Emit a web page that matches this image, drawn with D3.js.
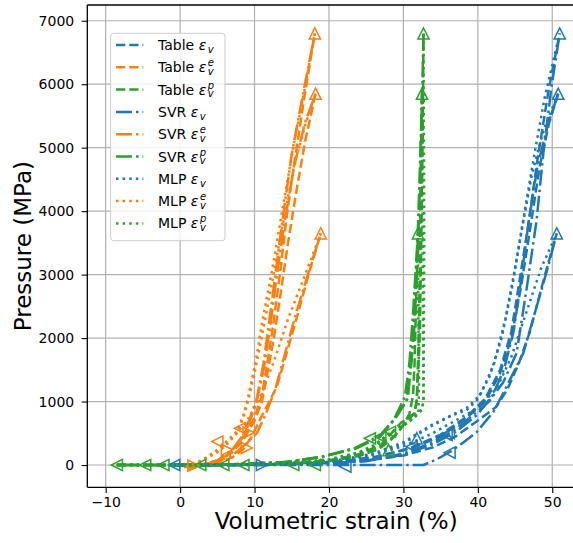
<!DOCTYPE html>
<html><head><meta charset="utf-8">
<script src="https://cdn.jsdelivr.net/npm/d3@7"></script>
<style>body{margin:0;background:#fff} text{font-family:"DejaVu Sans",sans-serif}</style>
</head><body><svg id="c" width="573" height="543"></svg>
<script>
// ---------------- DATA (strain %, pressure MPa) ----------------
const xTicks = [-10, 0, 10, 20, 30, 40, 50];
const yTicks = [0, 1000, 2000, 3000, 4000, 5000, 6000, 7000];
const legendLabels = ["Table", "Table", "Table", "SVR", "SVR", "SVR", "MLP", "MLP", "MLP"];
const legendSup = ["", "e", "p", "", "e", "p", "", "e", "p"];

// Table εv (three load paths)
const tableEv = [
  [[-0.8,0],[5,0],[10,5],[15,15],[20,30],[25,70],[30,150],[34,280],[37,450],[40,700],[42.5,920],[44,1200],[45.5,1600],[47,2100],[48.8,2900],[50.6,3650]],
  [[-0.8,0],[5,0],[11,5],[16,20],[21,50],[26,120],[31,260],[35,450],[38,700],[41,1000],[43,1450],[44.5,2000],[45.8,2800],[47,3700],[48.3,4700],[49.6,5400],[50.8,5850]],
  [[-0.8,0],[5,0],[11,5],[16,20],[21,50],[26,120],[31,270],[35,480],[38.5,760],[41,1050],[43,1500],[44.5,2100],[45.6,2900],[46.8,3800],[48,4800],[49.5,5900],[51.0,6800]]
];
const tableEe = [
  [[1.0,-80],[2.5,-20],[5,40],[7,120],[8.5,250],[9.6,446],[10.7,709],[13.0,1234],[14.3,1760],[15.6,2290],[17.2,2980],[18.9,3650]],
  [[1.0,-60],[3,0],[5,60],[7,200],[8.5,400],[10,700],[11,1000],[11.8,1500],[12.6,2000],[13.5,2700],[14.5,3500],[15.6,4300],[16.8,5100],[18.2,5850]],
  [[1.0,-60],[3,0],[5,60],[7,210],[8.5,420],[10,750],[11,1100],[11.7,1600],[12.5,2200],[13.4,3000],[14.3,3900],[15.4,4800],[16.7,5800],[18.1,6800]]
];
const tableEp = [
  [[-8.5,0],[0,0],[10,5],[15,20],[20,60],[24,140],[26.5,240],[28.2,380],[29.6,560],[30.8,800],[31.3,1100],[31.5,1600],[31.7,2500],[31.95,3650]],
  [[-8.5,0],[0,0],[10,5],[15,25],[20,70],[24,160],[27,300],[29,480],[30.5,700],[31.5,814],[31.8,1024],[32.0,1800],[32.2,3000],[32.3,4500],[32.5,5850]],
  [[-8.5,0],[0,0],[10,5],[15,25],[20,70],[24,170],[27,320],[29.6,657],[31.5,814],[31.8,1024],[32.2,2000],[32.4,3500],[32.6,5200],[32.7,6800]]
];
const svrEv = [
  [[-0.8,0],[10,0],[20,0],[27,0],[32.7,0],[34.5,90],[36.3,210],[38,350],[39.9,525],[42.1,840],[43.4,1130],[46.1,1760],[47.9,2494],[49.5,3150],[50.6,3650]],
  [[-0.8,0],[10,0],[20,20],[25,60],[30,160],[34,330],[37,520],[40,800],[42,1100],[43.5,1500],[44.8,2100],[45.8,2900],[46.8,3800],[48,4700],[49.5,5400],[50.8,5850]],
  [[-0.8,0],[10,0],[20,25],[25,70],[30,180],[34,360],[37,560],[40,850],[41.5,1000],[43.4,1300],[45.2,1760],[46.6,2810],[47.9,3860],[48.8,4911],[49.9,5960],[51.0,6800]]
];
const svrEe = [
  [[0.5,-30],[3,10],[5,50],[7,150],[9,350],[10.3,500],[11.5,800],[12.8,1200],[14.2,1800],[15.6,2400],[17.3,3050],[18.9,3650]],
  [[0.5,-30],[3,10],[5,70],[7,230],[8.5,450],[9.4,700],[10.3,1000],[11.2,1500],[12.0,2100],[12.9,2900],[14,3800],[15.3,4700],[16.8,5400],[18.2,5850]],
  [[0.5,-30],[3,10],[5,70],[7,240],[8.5,480],[9.4,750],[10.3,1050],[11.2,1600],[11.9,2200],[12.8,3000],[13.8,3900],[15,4900],[16.6,5900],[18.1,6800]]
];
const svrEp = [
  [[-8.5,0],[5,0],[14.8,52],[19.2,131],[23.7,263],[26.9,446],[28.7,709],[30.2,1076],[30.8,1600],[31.3,2400],[31.95,3650]],
  [[-8.5,0],[5,0],[14,45],[19,125],[23.5,260],[26.7,440],[28.8,720],[30.4,1000],[31.2,1800],[31.8,3200],[32.2,4600],[32.5,5850]],
  [[-8.5,0],[5,0],[14,45],[19,130],[23.5,270],[26.8,460],[29,750],[30.6,1050],[31.4,2000],[32,3500],[32.4,5200],[32.7,6800]]
];
const mlpEv = [
  [[-0.8,0],[10,5],[20,40],[26,158],[30,300],[33.6,480],[37,700],[40,900],[42.5,1200],[44.5,1700],[46.5,2400],[48.5,3100],[50.6,3650]],
  [[-0.8,0],[10,5],[20,45],[26,170],[30,340],[33.6,603],[36.5,780],[38.5,866],[39.9,1024],[41.6,1400],[43.2,2000],[44.6,2800],[45.9,3700],[47.3,4600],[48.9,5300],[50.8,5850]],
  [[-0.8,0],[10,5],[20,50],[26,180],[30,360],[33.6,620],[38.5,900],[40.3,1100],[42.2,1600],[43.7,2300],[45.0,3100],[46.3,4000],[47.6,4900],[49.0,5800],[51.0,6800]]
];
const mlpEe = [
  [[1.7,0],[3.5,100],[5,200],[6.5,350],[7.6,500],[9,700],[10.5,1000],[12.5,1600],[14.5,2300],[16.8,3000],[18.9,3650]],
  [[1.7,0],[3.5,110],[5,220],[6.5,380],[7.6,500],[8.5,750],[9.1,1000],[10.1,1500],[11.1,2100],[12.4,2900],[13.8,3800],[15.3,4700],[16.9,5400],[18.2,5850]],
  [[1.7,0],[3.5,120],[5,240],[6.5,400],[7.6,530],[8.5,780],[9.1,1050],[10.1,1600],[11.1,2300],[12.4,3100],[13.7,4000],[15.2,5000],[16.7,5900],[18.1,6800]]
];
const mlpEp = [
  [[-8.5,0],[5,0],[15,30],[20,80],[24,180],[26,280],[28.2,500],[30.5,657],[32.0,800],[32.1,1200],[32.0,2500],[31.95,3650]],
  [[-8.5,0],[5,0],[15,30],[20,85],[24,190],[26,300],[28.2,500],[30.5,657],[32.5,866],[32.7,1024],[32.6,3000],[32.5,5850]],
  [[-8.5,0],[5,0],[15,30],[20,90],[24,200],[26,310],[28.4,520],[30.7,680],[32.5,880],[32.7,1024],[32.8,3500],[32.7,6800]]
];

// triangle markers: [strain, pressure, direction]
const markersEv = [[51.0,6800,"up"],[50.8,5850,"up"],[50.6,3650,"up"],[-0.8,0,"left"],[11.0,0,"right"],[22.2,-25,"left"],
  [31.8,420,"up"],[31.1,288,"left"],[35.8,473,"left"],[36.2,195,"left"],[36.1,500,"left"]];
const markersEe = [[18.1,6800,"up"],[18.2,5850,"up"],[18.9,3650,"up"],[5.0,370,"left"],[6.3,240,"right"],[8.05,580,"left"],
  [8.95,270,"right"],[9.2,510,"right"],[1.8,-10,"right"]];
const markersEp = [[32.7,6800,"up"],[32.5,5850,"up"],[31.95,3650,"up"],[-8.5,0,"left"],[-4.7,0,"left"],[-2.25,0,"left"],
  [2.7,0,"left"],[5.8,0,"left"],[8.5,0,"left"],[15.2,0,"left"],[18.1,0,"left"],[25.5,420,"left"],[26.9,446,"left"],
  [28.2,525,"left"],[28.0,236,"up"]];

// ---------------- STYLE / BUILD ----------------
const blue = "#1f77b4", orange = "#ff7f0e", green = "#2ca02c";
const dashes = {dashed: "9.25,4", dashdot: "16,4,2.5,4", dotted: "2.5,4.1"};
const series = [
  {data: tableEv, color: blue, dash: dashes.dashed},
  {data: tableEe, color: orange, dash: dashes.dashed},
  {data: tableEp, color: green, dash: dashes.dashed},
  {data: svrEv, color: blue, dash: dashes.dashdot},
  {data: svrEe, color: orange, dash: dashes.dashdot},
  {data: svrEp, color: green, dash: dashes.dashdot},
  {data: mlpEv, color: blue, dash: dashes.dotted},
  {data: mlpEe, color: orange, dash: dashes.dotted},
  {data: mlpEp, color: green, dash: dashes.dotted}
];
const markerSets = [{data: markersEv, color: blue}, {data: markersEe, color: orange}, {data: markersEp, color: green}];

const svg = d3.select("#c");
const L = 87.3, R = 585, T = 5, B = 487.3;
const x = d3.scaleLinear().domain([-12.47, 54.4]).range([L, R]);
const y = d3.scaleLinear().domain([-351, 7248]).range([B, T]);

svg.append("defs").append("clipPath").attr("id", "clip")
  .append("rect").attr("x", L).attr("y", T).attr("width", R - L).attr("height", B - T);

// grid
const grid = svg.append("g");
grid.selectAll(".gx").data(xTicks).enter().append("line")
  .attr("x1", d => x(d)).attr("x2", d => x(d)).attr("y1", T).attr("y2", B)
  .attr("stroke", "#b0b0b0").attr("stroke-width", 1.2);
grid.selectAll(".gy").data(yTicks).enter().append("line")
  .attr("y1", d => y(d)).attr("y2", d => y(d)).attr("x1", L).attr("x2", R)
  .attr("stroke", "#b0b0b0").attr("stroke-width", 1.2);

// lines
const line = d3.line().x(d => x(d[0])).y(d => y(d[1]));
const plot = svg.append("g").attr("clip-path", "url(#clip)");
series.forEach(s => {
  s.data.forEach(br => {
    plot.append("path").attr("d", line(br)).attr("fill", "none")
      .attr("stroke", s.color).attr("stroke-width", 2.5)
      .attr("stroke-dasharray", s.dash).attr("stroke-linejoin", "round");
  });
});
const rot = {up: 0, left: -90, right: 90, down: 180};
const ms = 5.6;
markerSets.forEach(m => {
  plot.selectAll(null).data(m.data).enter().append("path")
    .attr("d", `M0,${-ms}L${-ms},${ms}L${ms},${ms}Z`)
    .attr("transform", d => `translate(${x(d[0])},${y(d[1])}) rotate(${rot[d[2]]})`)
    .attr("fill", "none").attr("stroke", m.color).attr("stroke-width", 1.5).attr("stroke-linejoin", "miter");
});

// axes
const xAxis = d3.axisBottom(x).tickValues(xTicks).tickSize(5.6).tickPadding(4.5)
  .tickFormat(d => d < 0 ? "\u2212" + Math.abs(d) : String(d));
const gx = svg.append("g").attr("transform", `translate(0,${B})`).call(xAxis);
const yAxis = d3.axisLeft(y).tickValues(yTicks).tickSize(5.6).tickPadding(7.5).tickFormat(d => String(d));
const gy = svg.append("g").attr("transform", `translate(${L},0)`).call(yAxis);
[gx, gy].forEach(g => {
  g.select(".domain").remove();
  g.selectAll("line").attr("stroke", "#000").attr("stroke-width", 1.1);
  g.selectAll("text").attr("font-family", "DejaVu Sans").attr("font-size", 14).attr("fill", "#000");
});
// spines
[[L, B, R, B], [L, T, R, T], [L, T, L, B], [R, T, R, B]].forEach(c => {
  svg.append("line").attr("x1", c[0]).attr("y1", c[1]).attr("x2", c[2]).attr("y2", c[3])
    .attr("stroke", "#000").attr("stroke-width", 1.3);
});

// axis labels
svg.append("text").attr("x", (L + R) / 2).attr("y", 529).attr("text-anchor", "middle")
  .attr("font-size", 23).text("Volumetric strain (%)");
svg.append("text").attr("transform", `translate(31,${(T + B) / 2}) rotate(-90)`).attr("text-anchor", "middle")
  .attr("font-size", 23).text("Pressure (MPa)");

// legend
const lg = svg.append("g");
lg.append("rect").attr("x", 110.7).attr("y", 33.3).attr("width", 114.3).attr("height", 207.4)
  .attr("rx", 3).attr("fill", "#fff").attr("fill-opacity", 0.8).attr("stroke", "#cccccc").attr("stroke-width", 1);
series.forEach((s, i) => {
  const cy = 45 + i * 22.3;
  lg.append("line").attr("x1", 116).attr("x2", 143.3).attr("y1", cy).attr("y2", cy)
    .attr("stroke", s.color).attr("stroke-width", 2.5).attr("stroke-dasharray", s.dash);
  const t = lg.append("text").attr("x", 158).attr("y", cy + 5).attr("font-size", 14);
  t.append("tspan").text(legendLabels[i]);
  t.append("tspan").attr("dx", 4.5).attr("font-style", "italic").text("\u03b5");
  t.append("tspan").attr("dx", 1.5).attr("dy", 2.8).attr("font-size", 10).attr("font-style", "italic").text("v");
  if (legendSup[i]) {
    t.append("tspan").attr("dx", -5.9).attr("dy", -8.8).attr("font-size", 10)
      .attr("font-style", "italic").text(legendSup[i]);
  }
});
</script></body></html>
